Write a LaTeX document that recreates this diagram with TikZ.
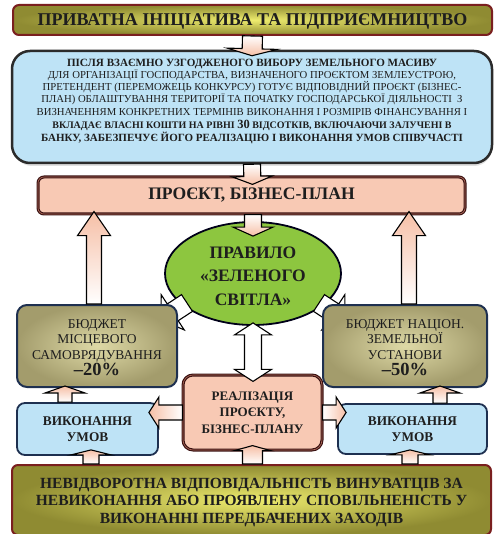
\documentclass[tikz,border=0pt]{standalone}
\usepackage{fontspec}
\setmainfont{Liberation Serif}
\usetikzlibrary{calc,shapes.geometric}
\definecolor{olvD}{HTML}{8F8B32}
\definecolor{olvL}{HTML}{EEEC6E}
\definecolor{redB}{HTML}{7A1F1F}
\definecolor{blueF}{HTML}{BEE3F6}
\definecolor{greyB}{HTML}{2B2B2B}
\definecolor{salm}{HTML}{F8C9B4}
\definecolor{brnB}{HTML}{3A1212}
\definecolor{brnI}{HTML}{B06A5A}
\definecolor{grn}{HTML}{8DC63F}
\definecolor{navy}{HTML}{1E3050}
\definecolor{budL}{HTML}{DED9A6}
\definecolor{budD}{HTML}{A39C6C}
\definecolor{txt}{HTML}{1E1E1E}
\definecolor{pinkA}{HTML}{F6BFA6}

% block arrow: style, from, to, half shaft, half head, head length
\newcommand{\blockarrow}[6]{%
  \coordinate (bah) at ($#3!#6!#2$);
  \path[#1] ($#2!#4!90:#3$) -- ($(bah)!#4!90:#3$) -- ($(bah)!#5!90:#3$) -- #3
     -- ($(bah)!#5!-90:#3$) -- ($(bah)!#4!-90:#3$) -- ($#2!#4!-90:#3$) -- cycle;
}
% double block arrow
\newcommand{\dblockarrow}[6]{%
  \coordinate (dbA) at ($#2!#6!#3$);
  \coordinate (dbB) at ($#3!#6!#2$);
  \path[#1] #2 -- ($(dbA)!#5!90:#3$) -- ($(dbA)!#4!90:#3$) -- ($(dbB)!#4!-90:#2$)
     -- ($(dbB)!#5!-90:#2$) -- #3 -- ($(dbB)!#5!90:#2$) -- ($(dbB)!#4!90:#2$)
     -- ($(dbA)!#4!-90:#3$) -- ($(dbA)!#5!-90:#3$) -- cycle;
}

\tikzset{
  olvbox/.style={rounded corners=6pt, draw=redB, line width=2pt, inner color=olvL, outer color=olvD, inner sep=0pt},
  bluebox/.style={rounded corners=18pt, draw=greyB, line width=2.5pt, fill=blueF, inner sep=0pt},
  projbox/.style={rounded corners=6pt, draw=brnB, line width=1.2pt, double=brnI, double distance=0.6pt, fill=salm, inner sep=0pt},
  budbox/.style={rounded corners=10pt, draw=navy, line width=2pt, inner color=budL, outer color=budD, inner sep=0pt},
  execbox/.style={rounded corners=8pt, draw=navy, line width=1.8pt, fill=blueF, inner sep=0pt},
  lbl/.style={text=txt, align=center, inner sep=0pt},
  arrbase/.style={draw=black, line width=1.1pt, line join=miter},
  arrU/.style={arrbase, top color=pinkA, bottom color=white},
  arrD/.style={arrbase, top color=white, bottom color=pinkA},
  arrL/.style={arrbase, left color=pinkA, right color=white},
  arrR/.style={arrbase, left color=white, right color=pinkA},
  arrW/.style={arrbase, fill=white},
}

\begin{document}
\begin{tikzpicture}[x=1pt,y=-1pt]
\useasboundingbox (0,0) rectangle (495,534);

% top
\node[olvbox, minimum width=479pt, minimum height=30pt] (top) at (252.5,20) {};
\node[lbl, font=\bfseries\fontsize{18}{20}\selectfont] (topT) at (252.5,21) {ПРИВАТНА ІНІЦІАТИВА ТА ПІДПРИЄМНИЦТВО};

% description
\fill[black!12, rounded corners=18pt] (14,55) rectangle (492,166);
\node[bluebox, minimum width=480pt, minimum height=112pt] (desc) at (252,107) {};
\node[lbl, font=\fontsize{10.7}{12.1}\selectfont] (descT) at (252,101.5) {%
{\bfseries\fontsize{11.1}{12.1}\selectfont ПІСЛЯ ВЗАЄМНО УЗГОДЖЕНОГО ВИБОРУ ЗЕМЕЛЬНОГО МАСИВУ}\\
ДЛЯ ОРГАНІЗАЦІЇ ГОСПОДАРСТВА, ВИЗНАЧЕНОГО ПРОЄКТОМ ЗЕМЛЕУСТРОЮ,\\
ПРЕТЕНДЕНТ (ПЕРЕМОЖЕЦЬ КОНКУРСУ) ГОТУЄ ВІДПОВІДНИЙ ПРОЄКТ (БІЗНЕС-\\
ПЛАН) ОБЛАШТУВАННЯ ТЕРИТОРІЇ ТА ПОЧАТКУ ГОСПОДАРСЬКОЇ ДІЯЛЬНОСТІ~~З\\
ВИЗНАЧЕННЯМ КОНКРЕТНИХ ТЕРМІНІВ ВИКОНАННЯ І РОЗМІРІВ ФІНАНСУВАННЯ І\\[1pt]
{\bfseries\fontsize{10}{12.1}\selectfont ВКЛАДАЄ ВЛАСНІ КОШТИ НА РІВНІ {\fontsize{12.5}{12}\selectfont 30} ВІДСОТКІВ, ВКЛЮЧАЮЧИ ЗАЛУЧЕНІ В}\\[1pt]
{\bfseries\fontsize{11}{12.1}\selectfont БАНКУ, ЗАБЕЗПЕЧУЄ ЙОГО РЕАЛІЗАЦІЮ І ВИКОНАННЯ УМОВ СПІВУЧАСТІ}};

% project
\node[projbox, minimum width=427pt, minimum height=37pt, lbl, font=\bfseries\fontsize{17.6}{20}\selectfont] (proj) at (251.5,195.5) {ПРОЄКТ, БІЗНЕС-ПЛАН};

% green rule
\node[ellipse, draw=black!90!blue, line width=1.8pt, fill=grn, minimum width=176pt, minimum height=103pt, inner sep=0pt] (rule) at (253,273.5) {};
\node[lbl, font=\bfseries\fontsize{17.5}{23.5}\selectfont] (ruleT) at (253,276) {ПРАВИЛО\\«ЗЕЛЕНОГО\\СВІТЛА»};

% diagonal arrows (under budget boxes)
\coordinate (d1s) at ($(rule.center)+(-66,29.5)$);
\coordinate (d1e) at ($(rule.center)+(-92,46.5)$);
\coordinate (d2s) at ($(rule.center)+(66,29.5)$);
\coordinate (d2e) at ($(rule.center)+(92,46.5)$);
\blockarrow{arrW}{(d1s)}{(d1e)}{10pt}{21pt}{14pt}
\blockarrow{arrW}{(d2s)}{(d2e)}{10pt}{21pt}{14pt}

% budgets
\node[budbox, minimum width=160pt, minimum height=82pt] (budL) at (97,346) {};
\node[lbl, font=\fontsize{13.5}{15.5}\selectfont] (budLT) at (97,347.5) {БЮДЖЕТ\\МІСЦЕВОГО\\САМОВРЯДУВАННЯ\\[1pt]{\bfseries\fontsize{18.5}{17}\selectfont –20\%}};
\node[budbox, minimum width=164pt, minimum height=82pt] (budR) at (405,346) {};
\node[lbl, font=\fontsize{13.5}{15.5}\selectfont] (budRT) at (405,347.5) {БЮДЖЕТ НАЦІОН.\\ЗЕМЕЛЬНОЇ\\УСТАНОВИ\\[1pt]{\bfseries\fontsize{18.5}{17}\selectfont –50\%}};

% realization
\node[projbox, rounded corners=10pt, minimum width=139pt, minimum height=75pt, lbl, font=\bfseries\fontsize{13}{16.5}\selectfont] (real) at (252.5,412.5) {РЕАЛІЗАЦІЯ\\ПРОЄКТУ,\\БІЗНЕС-ПЛАНУ};

% execution
\node[execbox, minimum width=141pt, minimum height=52pt, lbl, font=\bfseries\fontsize{13.3}{16}\selectfont] (exL) at (87.5,429) {ВИКОНАННЯ\\УМОВ};
\node[execbox, minimum width=149pt, minimum height=50pt, lbl, font=\bfseries\fontsize{13.3}{16}\selectfont] (exR) at (412.5,429) {ВИКОНАННЯ\\УМОВ};

% bottom
\node[olvbox, minimum width=479pt, minimum height=70pt] (bot) at (251.5,500) {};
\node[lbl, font=\bfseries\fontsize{15.5}{17.5}\selectfont] (botT) at (251.5,502.5) {НЕВІДВОРОТНА ВІДПОВІДАЛЬНІСТЬ ВИНУВАТЦІВ ЗА\\НЕВИКОНАННЯ АБО ПРОЯВЛЕНУ СПОВІЛЬНЕНІСТЬ У\\ВИКОНАННІ ПЕРЕДБАЧЕНИХ ЗАХОДІВ};

% arrows
\coordinate (a1s) at (top.south);
\coordinate (a1e) at ($(desc.north)+(0,6)$);
\blockarrow{arrD}{(a1s)}{(a1e)}{10pt}{25pt}{7pt}

\coordinate (a2s) at (desc.south);
\coordinate (a2e) at ($(proj.north)+(1,8)$);
\blockarrow{arrD}{(a2s)}{(a2e)}{8.5pt}{20pt}{8pt}

\coordinate (a3s) at ($(proj.south)+(1.5,0)$);
\coordinate (a3e) at ($(rule.north)+(0,15)$);
\blockarrow{arrD}{(a3s)}{(a3e)}{8.5pt}{20pt}{9pt}

\coordinate (a4s) at ($(budL.north)+(-3,0)$);
\coordinate (a4e) at ($(a4s |- proj.south)+(0,-3)$);
\blockarrow{arrU}{(a4s)}{(a4e)}{7.5pt}{16.5pt}{24pt}

\coordinate (a5s) at ($(budR.north)+(4,0)$);
\coordinate (a5e) at ($(a5s |- proj.south)+(0,-3)$);
\blockarrow{arrU}{(a5s)}{(a5e)}{7.5pt}{16.5pt}{24pt}

\coordinate (a7s) at ($(rule.south)+(0,-3)$);
\coordinate (a7e) at ($(a7s |- real.north)+(0,7)$);
\dblockarrow{arrW}{(a7s)}{(a7e)}{8.5pt}{18.5pt}{12pt}

\coordinate (a8s) at (real.west);
\coordinate (a8e) at ($(exL.east |- real.west)+(-10,0)$);
\blockarrow{arrL}{(a8s)}{(a8e)}{7.5pt}{15.5pt}{10pt}

\coordinate (a9s) at (real.east);
\coordinate (a9e) at ($(exR.west |- real.east)+(9,0)$);
\blockarrow{arrR}{(a9s)}{(a9e)}{7.5pt}{15.5pt}{10pt}

\coordinate (a10s) at ($(exL.north)+(-22.5,0)$);
\coordinate (a10e) at ($(a10s |- budL.south)+(0,-2)$);
\blockarrow{arrU}{(a10s)}{(a10e)}{7pt}{20pt}{7pt}

\coordinate (a11s) at ($(exR.north)+(27.5,0)$);
\coordinate (a11e) at ($(a11s |- budR.south)+(0,-2)$);
\blockarrow{arrU}{(a11s)}{(a11e)}{7pt}{20pt}{7pt}

\coordinate (a12s) at ($(bot.north)+(-160.5,0)$);
\coordinate (a12e) at ($(a12s |- exL.south)+(0,-6)$);
\blockarrow{arrU}{(a12s)}{(a12e)}{8pt}{20pt}{5pt}

\coordinate (a13s) at ($(bot.north)+(1,0)$);
\coordinate (a13e) at ($(a13s |- real.south)+(0,-5)$);
\blockarrow{arrU}{(a13s)}{(a13e)}{10pt}{18pt}{5pt}

\coordinate (a14s) at ($(bot.north)+(158.5,0)$);
\coordinate (a14e) at ($(a14s |- exR.south)+(0,-5)$);
\blockarrow{arrU}{(a14s)}{(a14e)}{8pt}{20pt}{5pt}
\end{tikzpicture}
\end{document}
